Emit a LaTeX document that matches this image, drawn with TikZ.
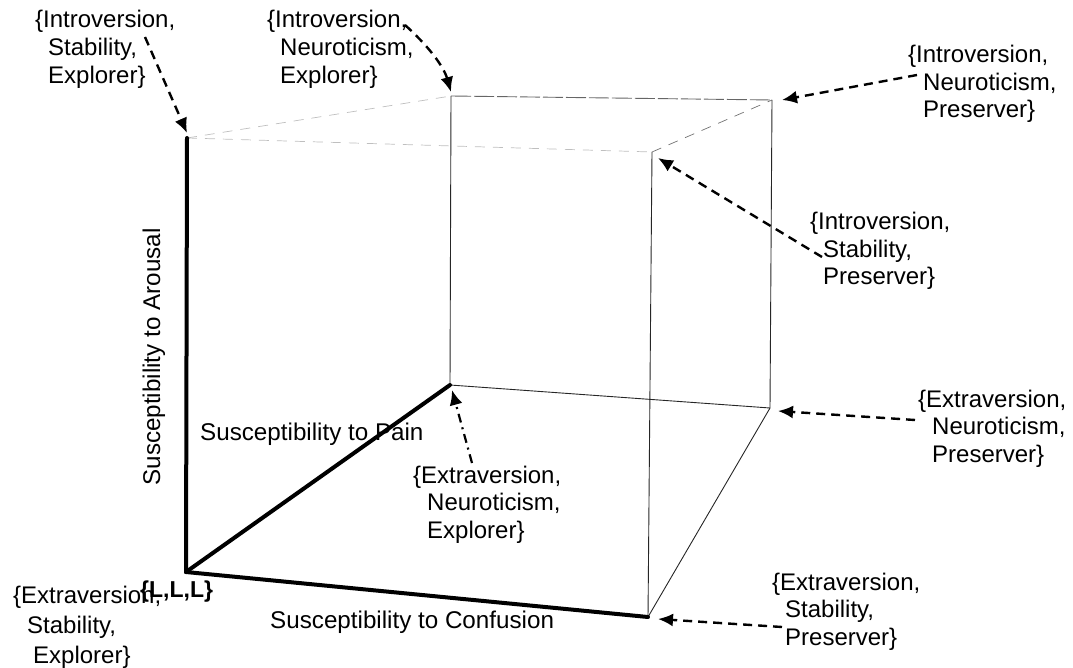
\documentclass[tikz,border=0pt]{standalone}
\usepackage{fontspec}
\setmainfont{Liberation Sans}
\usetikzlibrary{arrows.meta}
\newcommand\ptlabel[5]{% #1 baselineskip, #2 indent, #3 #4 #5 lines
  {\fontsize{24}{#1}\selectfont\begin{tabular}[t]{@{}l@{}}#3\\\hspace*{#2}#4\\\hspace*{#2}#5\end{tabular}}}
\begin{document}
\begin{tikzpicture}[x=1pt,y=-1pt,
  axis/.style={line width=4pt,line cap=round,line join=round},
  edge/.style={line width=0.9pt,black!85},
  faint/.style={line width=0.7pt,black!25,dash pattern=on 10pt off 8pt},
  pointer/.style={line width=2.4pt,dash pattern=on 9pt off 6pt,-{Latex[length=15pt,width=13pt]}},
  pointerdd/.style={line width=2.2pt,dash pattern=on 9pt off 5pt on 2pt off 5pt,-{Latex[length=15pt,width=13pt]}},
  lab/.style={anchor=base west,inner sep=0pt,text=black},
  axlab/.style={inner sep=0pt,font=\fontsize{24.2}{28}\selectfont,text=black}]
\useasboundingbox (0,0) rectangle (1073,668);
% corners
\coordinate (O) at (186,572);
\coordinate (A) at (187,138);
\coordinate (P) at (450,385);
\coordinate (C) at (648,617);
\coordinate (BTL) at (451,96);
\coordinate (BTR) at (772,100);
\coordinate (FTR) at (652,152);
\coordinate (BBR) at (770,408);
% cube edges
\draw[faint] (A) -- (BTL);
\draw[faint] (A) -- (FTR);
\draw[edge,black!60,dash pattern=on 20pt off 3pt] (BTL) -- (BTR);
\draw[faint,black!55] (FTR) -- (BTR);
\draw[edge] (BTL) -- (P);
\draw[edge] (BTR) -- (BBR);
\draw[edge] (FTR) -- (C);
\draw[edge] (P) -- (BBR);
\draw[edge] (BBR) -- (C);
% axes
\draw[axis] (A) -- (O);
\draw[axis] (O) -- (P);
\draw[axis] (O) -- (C);
% axis labels
\node[axlab,anchor=base west] (pain) at (200,440) {Susceptibility to Pain};
\node[axlab,anchor=base west] (conf) at (270,628) {Susceptibility to Confusion};
\node[axlab,anchor=base,rotate=90] (arou) at (160,357) {Susceptibility to Arousal};
\node[lab,font=\bfseries\fontsize{23}{28}\selectfont] (lll) at (140,597) {\{L,L,L\}};
% point labels
\node[lab] (l1) at (35,28) {\ptlabel{28}{13pt}{\{Introversion,}{Stability,}{Explorer\}}};
\node[lab] (l2) at (267,28) {\ptlabel{28}{13pt}{\{Introversion,}{Neuroticism,}{Explorer\}}};
\node[lab] (l3) at (908,63) {\ptlabel{27.5}{15pt}{\{Introversion,}{Neuroticism,}{Preserver\}}};
\node[lab] (l4) at (810,230) {\ptlabel{27.5}{13pt}{\{Introversion,}{Stability,}{Preserver\}}};
\node[lab] (l5) at (918,407) {\ptlabel{27.5}{14pt}{\{Extraversion,}{Neuroticism,}{Preserver\}}};
\node[lab] (l6) at (413,483) {\ptlabel{27.5}{14pt}{\{Extraversion,}{Neuroticism,}{Explorer\}}};
\node[lab] (l7) at (772,590) {\ptlabel{27.5}{13pt}{\{Extraversion,}{Stability,}{Preserver\}}};
\node[lab] (l8) at (13,603) {\ptlabel{30}{14pt}{\{Extraversion,}{Stability,}{\hspace*{6pt}Explorer\}}};
% arrow ends
\coordinate (s1) at (145,37);   \coordinate (t1) at (187,133);
\coordinate (s2) at (405,25);   \coordinate (t2) at (451,92);
\coordinate (s3) at (917,75);   \coordinate (t3) at (782,100);
\coordinate (s4) at (822,257);  \coordinate (t4) at (658,158);
\coordinate (s5) at (915,420);  \coordinate (t5) at (778,411);
\coordinate (s6) at (472,463);  \coordinate (t6) at (452,390);
\coordinate (s7) at (782,627);  \coordinate (t7) at (658,619);
\draw[pointer] (s1) -- (t1);
\draw[pointer] (s2) .. controls (424,42) and (443,64) .. (t2);
\draw[pointer] (s3) -- (t3);
\draw[pointer] (s4) -- (t4);
\draw[pointer] (s5) -- (t5);
\draw[pointerdd] (s6) -- (t6);
\draw[pointer] (s7) -- (t7);
\end{tikzpicture}
\end{document}
